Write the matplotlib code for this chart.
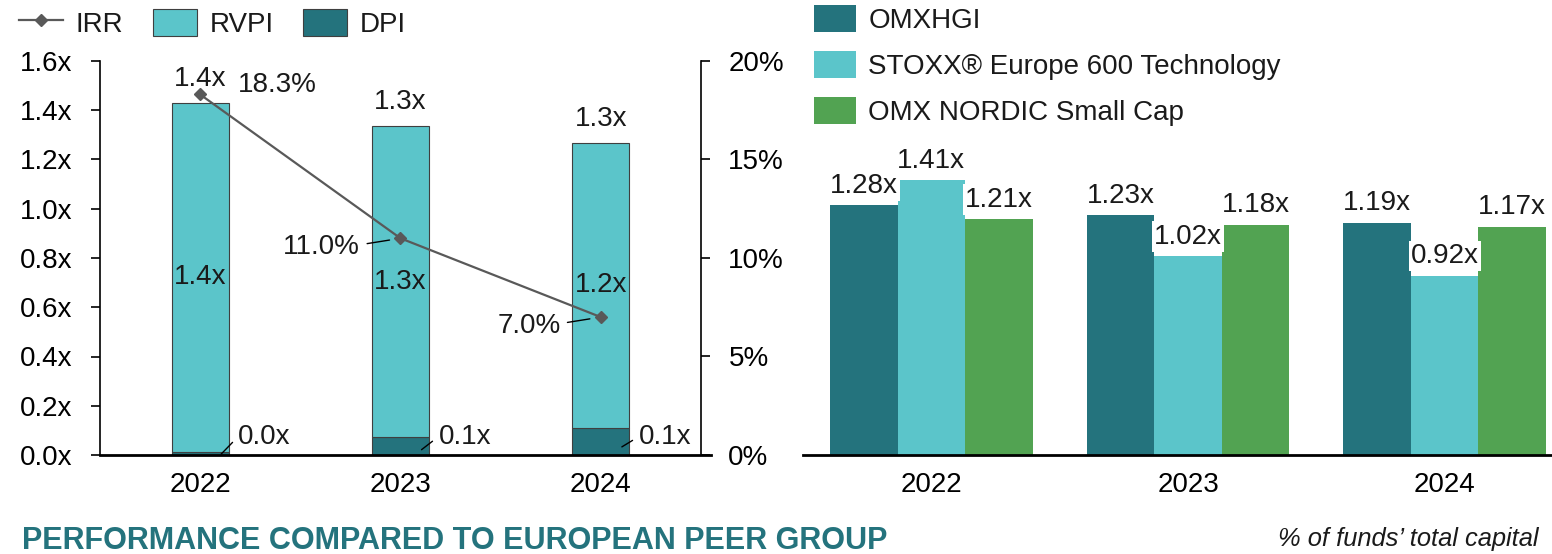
import matplotlib.pyplot as plt
from matplotlib.lines import Line2D
from matplotlib.patches import Patch
import numpy as np

plt.rcParams['font.family'] = ['Liberation Sans', 'DejaVu Sans']
plt.rcParams['text.color'] = '#1a1a1a'

# Data - left chart (fund multiples)
years = ["2022", "2023", "2024"]
dpi = [0.013, 0.072, 0.11]
rvpi = [1.418, 1.265, 1.158]
irr = [18.3, 11.0, 7.0]

# Data - right chart (peer group)
peer_names = ["OMXHGI", "STOXX® Europe 600 Technology", "OMX NORDIC Small Cap"]
peer_values = [
    [1.28, 1.23, 1.19],
    [1.41, 1.02, 0.92],
    [1.21, 1.18, 1.17],
]

# Colours
c_dark = "#24737d"
c_light = "#5bc5ca"
c_green = "#52a352"
c_line = "#595959"
c_edge = "#3f3f3f"
peer_colors = [c_dark, c_light, c_green]

FS = 20

fig = plt.figure(figsize=(15.52, 5.54), dpi=100)
W, H = 1552, 554

# ---------------- Left chart ----------------
ax = fig.add_axes([100 / W, (H - 455) / H, 601 / W, 394 / H])
x = np.arange(len(years))
bw = 0.285
ax.bar(x, dpi, bw, color=c_dark, edgecolor=c_edge, linewidth=0.8, zorder=2)
ax.bar(x, rvpi, bw, bottom=dpi, color=c_light, edgecolor=c_edge, linewidth=0.8, zorder=2)
ax.set_xlim(-0.5, 2.5)
ax.set_ylim(0, 1.6)
ax.set_yticks(np.arange(0, 1.61, 0.2))
ax.set_yticklabels([f"{v:.1f}x" for v in np.arange(0, 1.61, 0.2)])
ax.set_xticks(x)
ax.set_xticklabels(years)
ax.tick_params(axis='y', labelsize=FS, length=6.7, width=1.2, pad=13, direction='out')
ax.tick_params(axis='x', labelsize=FS, length=0, pad=12)
for s in ['top', 'right']:
    ax.spines[s].set_visible(False)
ax.spines['left'].set_linewidth(1.2)
ax.spines['bottom'].set_linewidth(2)
ax.spines['bottom'].set_bounds(-0.5, 2.55)

totals = [d + r for d, r in zip(dpi, rvpi)]
for xi, d, r, t in zip(x, dpi, rvpi, totals):
    # total on top
    ax.annotate(f"{t:.1f}x", (xi, t), xytext=(0, 12), textcoords='offset points',
                ha='center', va='baseline', fontsize=FS)
    # RVPI inside
    ax.text(xi, d + r / 2, f"{r:.1f}x", ha='center', va='center', fontsize=FS)
    # DPI with leader
    ax.annotate(f"{d:.1f}x", (xi + 0.105, d * 0.3), xytext=(xi + 0.19, 0.075),
                textcoords='data', ha='left', va='center', fontsize=FS,
                arrowprops=dict(arrowstyle='-', color='black', lw=1,
                                relpos=(0, 0.5), shrinkA=3, shrinkB=0))

# IRR line on secondary axis
ax2 = ax.twinx()
ax2.plot(x, irr, color=c_line, lw=1.6, marker='D', markersize=6.5, zorder=5)
ax2.set_ylim(0, 20)
ax2.set_yticks([0, 5, 10, 15, 20])
ax2.set_yticklabels([f"{v}%" for v in [0, 5, 10, 15, 20]])
ax2.tick_params(axis='y', labelsize=FS, length=6.7, width=1.2, pad=13, direction='out')
for s in ['top', 'left', 'bottom']:
    ax2.spines[s].set_visible(False)
ax2.spines['right'].set_linewidth(1.2)

ax2.annotate(f"{irr[0]:.1f}%", (x[0], irr[0]), xytext=(27, 7), textcoords='offset points',
             ha='left', va='center', fontsize=FS)
for i in [1, 2]:
    ax2.annotate(f"{irr[i]:.1f}%", (x[i], irr[i]), xytext=(-29, -6.5), textcoords='offset points',
                 ha='right', va='center', fontsize=FS,
                 arrowprops=dict(arrowstyle='-', color='black', lw=1,
                                 relpos=(1, 0.6), shrinkA=3, shrinkB=8))

handles = [Line2D([0], [0], color=c_line, lw=1.6, marker='D', markersize=6.5),
           Patch(facecolor=c_light, edgecolor=c_edge, linewidth=0.8),
           Patch(facecolor=c_dark, edgecolor=c_edge, linewidth=0.8)]
fig.legend(handles, ["IRR", "RVPI", "DPI"], loc='upper left', bbox_to_anchor=(0.005, 1.004),
           ncol=3, frameon=False, fontsize=FS, handlelength=1.6, handleheight=1.1,
           handletextpad=0.45, columnspacing=1.05, borderaxespad=0)

# ---------------- Right chart ----------------
axr = fig.add_axes([803 / W, (H - 455) / H, 770 / W, 351 / H])
gx = np.arange(len(years))
pw = 0.263
for k, (name, vals, col) in enumerate(zip(peer_names, peer_values, peer_colors)):
    pos = gx + (k - 1) * pw
    axr.bar(pos, vals, pw, color=col, label=name, zorder=2)
    for px, v in zip(pos, vals):
        axr.annotate(f"{v:.2f}x", (px, v), xytext=(0, 9), textcoords='offset points',
                     ha='center', va='baseline', fontsize=FS, zorder=4,
                     bbox=dict(boxstyle='square,pad=0.08', facecolor='white', edgecolor='none'))
axr.set_xlim(-0.5, 2.5)
axr.set_ylim(0, 1.8)
axr.set_yticks([])
axr.set_xticks(gx)
axr.set_xticklabels(years)
axr.tick_params(axis='x', labelsize=FS, length=0, pad=12)
for s in ['top', 'right', 'left']:
    axr.spines[s].set_visible(False)
axr.spines['bottom'].set_linewidth(2)

fig.legend(*axr.get_legend_handles_labels(), loc='upper left', bbox_to_anchor=(803 / W, 1.011),
           ncol=1, frameon=False, fontsize=FS, handlelength=1.5, handleheight=1.1,
           handletextpad=0.45, labelspacing=0.62, borderaxespad=0)

# ---------------- Footer texts ----------------
fig.text(22 / W, 1 - 541 / H, "PERFORMANCE COMPARED TO EUROPEAN PEER GROUP",
         ha='left', va='center', fontsize=22, fontweight='bold', color=c_dark)
fig.text(1538 / W, 1 - 539 / H, "% of funds’ total capital", ha='right', va='center',
         fontsize=18.4, style='italic')

fig.savefig("out.png", dpi=100)
